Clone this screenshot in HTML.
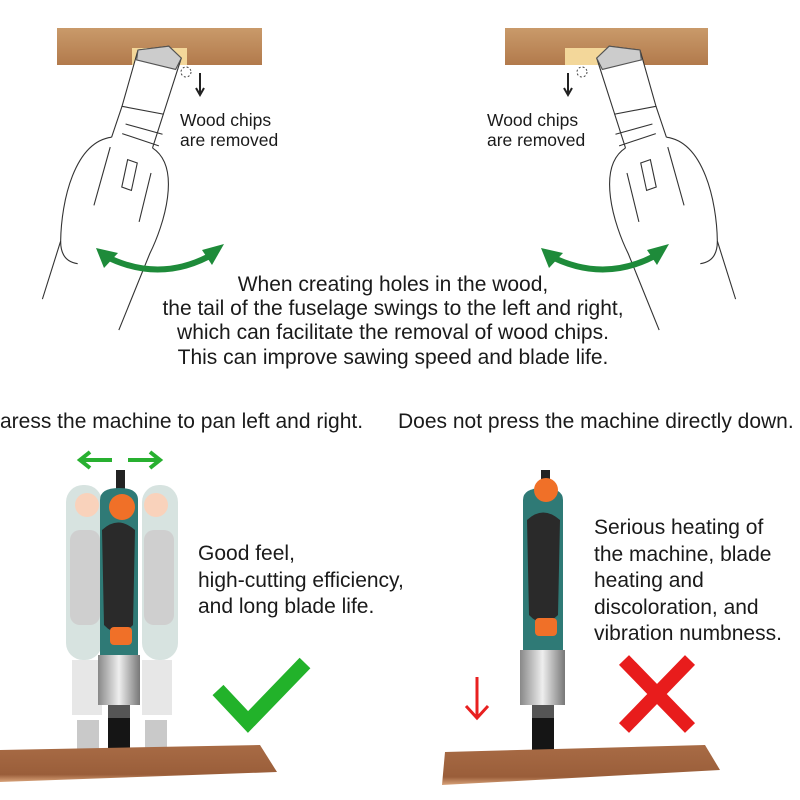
<!DOCTYPE html>
<html><head><meta charset="utf-8"><style>
body{margin:0;background:#fff;}
svg{display:block}
text{font-family:"Liberation Sans",Arial,sans-serif;fill:#1a1a1a}
</style></head><body>
<svg width="800" height="800" viewBox="0 0 800 800" xmlns="http://www.w3.org/2000/svg">
<defs>
<linearGradient id="wood" x1="0" y1="0" x2="0" y2="1"><stop offset="0" stop-color="#c99a6a"/><stop offset="1" stop-color="#b27a4c"/></linearGradient>
<linearGradient id="board" x1="0" y1="0" x2="0" y2="1"><stop offset="0" stop-color="#a86b45"/><stop offset="0.8" stop-color="#9a5e3a"/><stop offset="1" stop-color="#d9a37a"/></linearGradient>
<linearGradient id="silver" x1="0" y1="0" x2="1" y2="0"><stop offset="0" stop-color="#888"/><stop offset="0.5" stop-color="#eee"/><stop offset="1" stop-color="#777"/></linearGradient>
<g id="linetool" fill="none" stroke="#333" stroke-width="1.1">
  <path d="M0,0 L30,-8 L44,2 L34,60 L-8,58 Z" fill="#fff"/>
  <polygon points="0,0 30,-8 44,2 40,14 0,10" fill="#ccc" stroke="#555"/>
  <path d="M-8,58 L-14,90 M34,60 L28,95"/>
  <path d="M-2,75 L36,80 M-4,85 L34,92"/>
  <path d="M-14,90 C-50,100 -55,160 -50,200 L-60,260 M28,95 C60,110 50,170 40,200 L20,280"/>
  <path d="M-50,200 C-48,215 -40,220 -30,220 M5,110 L15,112 L13,140 L3,138 Z M-14,100 L-22,160 M30,120 L25,170"/>
</g>
</defs>

<!-- top left -->
<rect x="57" y="28" width="205" height="37" fill="url(#wood)"/>
<rect x="132" y="48" width="55" height="17" fill="#f3d79a"/>
<g transform="translate(138,50) rotate(8)"><use href="#linetool"/></g>
<path d="M200,73 L200,93 M196,88 L200,95 L204,88" stroke="#222" stroke-width="2" fill="none"/>
<circle cx="186" cy="72" r="5" fill="none" stroke="#444" stroke-dasharray="2 2"/>
<text x="180" y="126" font-size="17.5">Wood chips</text>
<text x="180" y="146" font-size="17.5">are removed</text>
<path d="M103,255 Q160,285 215,253" fill="none" stroke="#1e8b3a" stroke-width="6"/>
<polygon points="96,248 118,253 104,268" fill="#1e8b3a"/>
<polygon points="224,244 212,265 202,250" fill="#1e8b3a"/>

<!-- top right -->
<rect x="505" y="28" width="203" height="37" fill="url(#wood)"/>
<rect x="565" y="48" width="55" height="17" fill="#f3d79a"/>
<g transform="translate(640,50) scale(-1,1) rotate(8)"><use href="#linetool"/></g>
<path d="M568,73 L568,93 M564,88 L568,95 L572,88" stroke="#222" stroke-width="2" fill="none"/>
<circle cx="582" cy="72" r="5" fill="none" stroke="#444" stroke-dasharray="2 2"/>
<text x="487" y="126" font-size="17.5">Wood chips</text>
<text x="487" y="146" font-size="17.5">are removed</text>
<path d="M548,255 Q605,285 660,253" fill="none" stroke="#1e8b3a" stroke-width="6"/>
<polygon points="541,248 563,253 549,268" fill="#1e8b3a"/>
<polygon points="669,244 657,265 647,250" fill="#1e8b3a"/>

<g font-size="21" text-anchor="middle">
<text x="393" y="291">When creating holes in the wood,</text>
<text x="393" y="315">the tail of the fuselage swings to the left and right,</text>
<text x="393" y="339">which can facilitate the removal of wood chips.</text>
<text x="393" y="364">This can improve sawing speed and blade life.</text>
</g>
<text x="0" y="428" font-size="21">aress the machine to pan left and right.</text>
<text x="398" y="428" font-size="21">Does not press the machine directly down.</text>

<!-- bottom left ghosts -->
<g opacity="0.35">
 <rect x="66" y="485" width="36" height="175" rx="17" fill="#8fb0a8"/>
 <rect x="142" y="485" width="36" height="175" rx="17" fill="#8fb0a8"/>
 <rect x="70" y="530" width="30" height="95" rx="10" fill="#777"/>
 <rect x="144" y="530" width="30" height="95" rx="10" fill="#777"/>
 <circle cx="87" cy="505" r="12" fill="#f08040"/><circle cx="156" cy="505" r="12" fill="#f08040"/>
 <rect x="72" y="660" width="30" height="55" fill="#bbb"/><rect x="142" y="660" width="30" height="55" fill="#bbb"/>
 <rect x="77" y="720" width="22" height="35" fill="#666"/><rect x="145" y="720" width="22" height="35" fill="#666"/>
</g>
<path d="M80,460 L112,460 M90,452 L80,460 L90,468" stroke="#28b030" stroke-width="4" fill="none"/>
<path d="M128,460 L160,460 M150,452 L160,460 L150,468" stroke="#28b030" stroke-width="4" fill="none"/>
<rect x="116" y="470" width="9" height="25" fill="#222"/>
<path d="M100,500 Q100,488 119,488 Q138,488 138,500 L138,655 L100,655 Z" fill="#2f7a76"/>
<circle cx="122" cy="507" r="13" fill="#f07028"/>
<path d="M102,530 Q118,515 135,530 L133,625 Q118,640 104,625 Z" fill="#2a2a2a"/>
<rect x="110" y="627" width="22" height="18" rx="4" fill="#f07028"/>
<rect x="98" y="655" width="42" height="50" fill="url(#silver)"/>
<rect x="108" y="705" width="22" height="15" fill="#555"/>
<rect x="108" y="718" width="22" height="40" fill="#151515"/>
<polygon points="0,750 260,745 277,772 0,782" fill="url(#board)"/>
<text x="198" y="560" font-size="21">Good feel,</text>
<text x="198" y="587" font-size="21">high-cutting efficiency,</text>
<text x="198" y="613" font-size="21">and long blade life.</text>
<path d="M218,690 L248,722 L305,663" stroke="#22b22a" stroke-width="15" fill="none"/>

<!-- bottom right -->
<rect x="541" y="470" width="9" height="25" fill="#222"/>
<path d="M523,500 Q523,488 543,488 Q563,488 563,500 L563,655 L523,655 Z" fill="#2f7a76"/>
<circle cx="546" cy="490" r="12" fill="#f07028"/>
<path d="M527,520 Q543,505 560,520 L558,615 Q543,630 529,615 Z" fill="#2a2a2a"/>
<rect x="535" y="618" width="22" height="18" rx="4" fill="#f07028"/>
<rect x="520" y="650" width="45" height="55" fill="url(#silver)"/>
<rect x="532" y="705" width="22" height="15" fill="#555"/>
<rect x="532" y="718" width="22" height="40" fill="#151515"/>
<polygon points="445,752 705,745 720,770 442,785" fill="url(#board)"/>
<g font-size="21">
<text x="594" y="534">Serious heating of</text>
<text x="594" y="561">the machine, blade</text>
<text x="594" y="587">heating and</text>
<text x="594" y="614">discoloration, and</text>
<text x="594" y="640">vibration numbness.</text>
</g>
<path d="M477,677 L477,718 M466,706 L477,718 L488,706" stroke="#e82020" stroke-width="3" fill="none"/>
<path d="M624,660 L690,728 M690,660 L624,728" stroke="#e81c1c" stroke-width="14"/>
</svg>
</body></html>
